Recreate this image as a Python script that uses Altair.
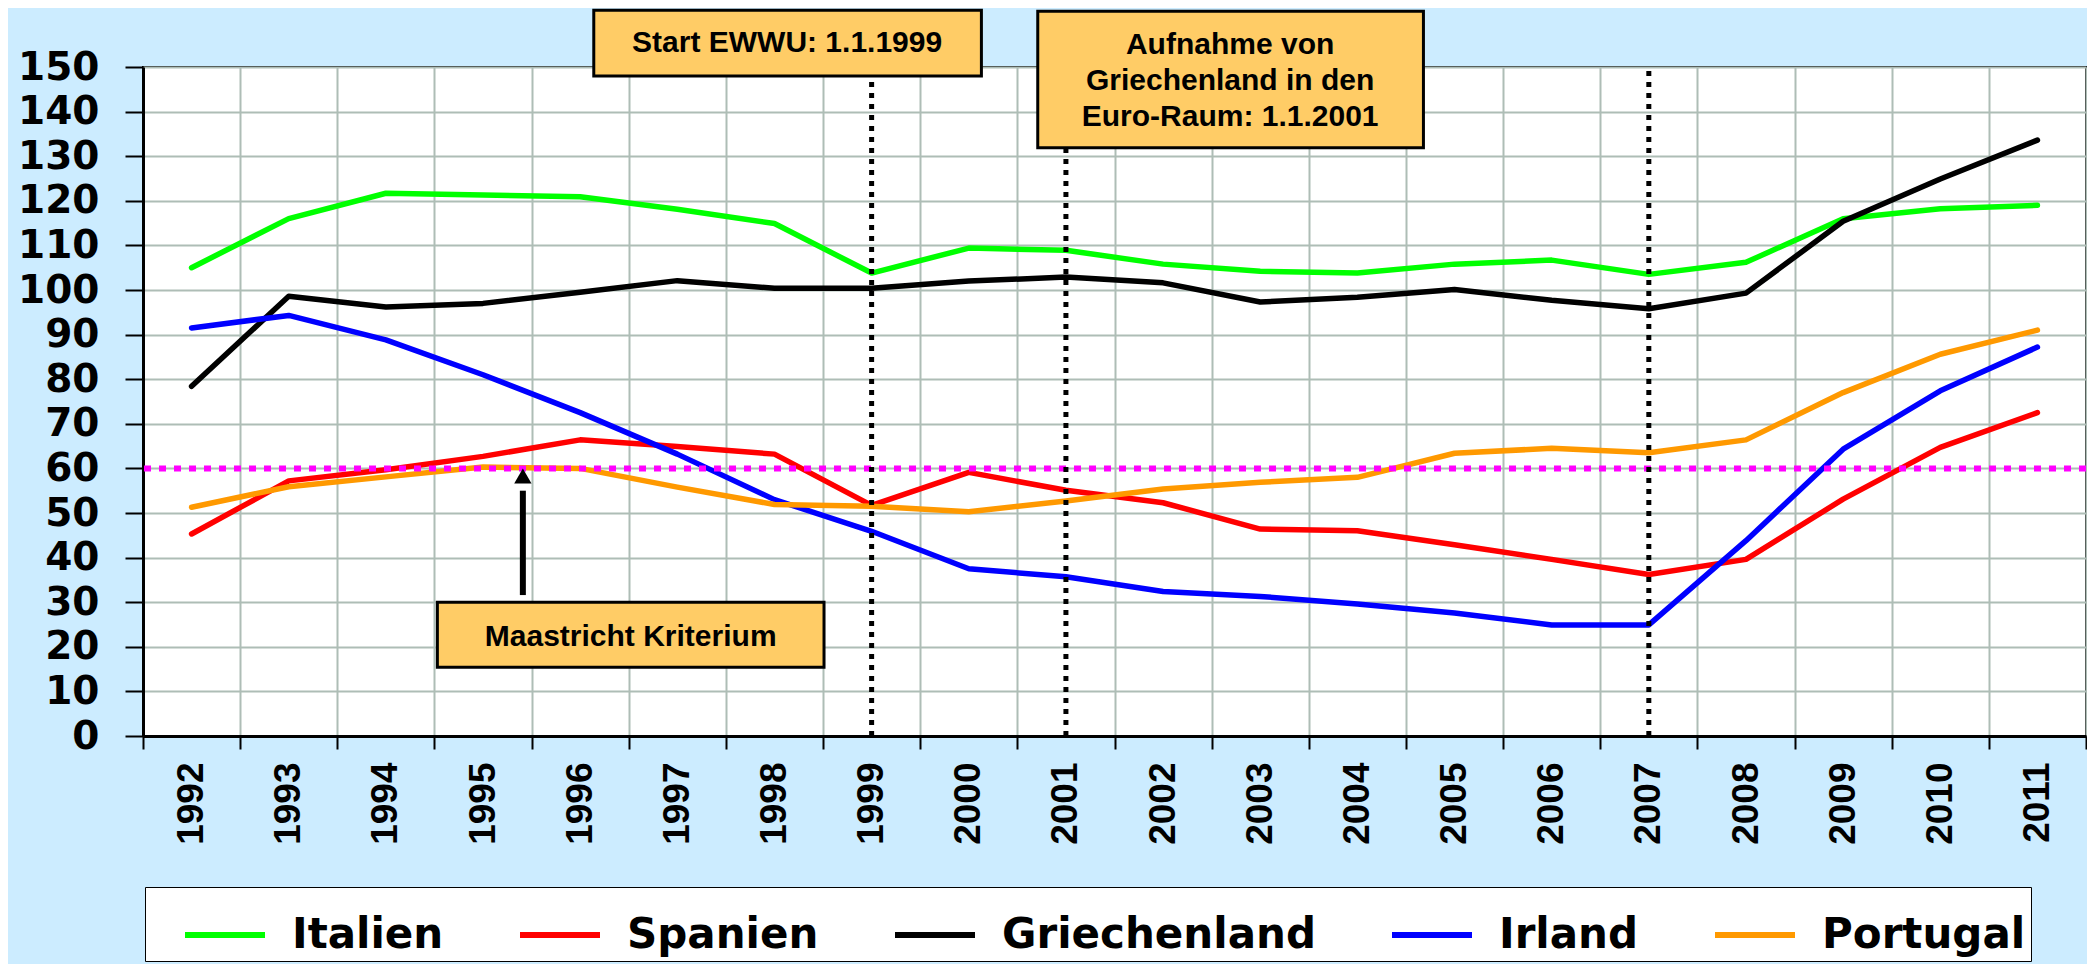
import altair as alt
import pandas as pd

# ---------------- data ----------------
years = list(range(1992, 2012))
countries = ["Italien", "Spanien", "Griechenland", "Irland", "Portugal"]
colors = ["#00FF00", "#FF0000", "#000000", "#0000FF", "#FF9900"]

italien = [105.0, 116.0, 121.7, 121.3, 120.9, 118.1, 114.9, 103.8, 109.4, 108.9,
           105.8, 104.2, 103.8, 105.8, 106.7, 103.5, 106.2, 116.0, 118.2, 119.0]
spanien = [45.3, 57.2, 59.7, 62.7, 66.4, 64.9, 63.2, 51.7, 59.1, 55.1,
           52.3, 46.4, 46.0, 42.9, 39.6, 36.2, 39.6, 53.1, 64.7, 72.5]
griechenland = [78.4, 98.6, 96.2, 97.0, 99.5, 102.1, 100.4, 100.4, 102.0, 102.9,
                101.6, 97.3, 98.4, 100.1, 97.7, 95.8, 99.3, 115.4, 124.9, 133.6]
irland = [91.5, 94.3, 88.8, 81.0, 72.5, 63.2, 53.0, 45.9, 37.5, 35.7,
          32.4, 31.3, 29.6, 27.6, 24.9, 24.9, 43.8, 64.3, 77.4, 87.2]
portugal = [51.3, 55.9, 58.1, 60.3, 60.0, 55.8, 51.9, 51.5, 50.3, 52.7,
            55.4, 56.9, 58.0, 63.4, 64.5, 63.5, 66.4, 77.0, 85.6, 91.0]

criterion = [60]
event_years = [1999, 2001, 2007]

# annotation boxes (in year / value units)
box_x1 = [1996.14, 2000.71, 1994.53]
box_x2 = [2000.13, 2004.68, 1998.51]
box_y1 = [162.7, 162.5, 30.0]
box_y2 = [148.0, 131.9, 15.4]
box_text = [["Start EWWU: 1.1.1999"],
            ["Aufnahme von", "Griechenland in den", "Euro-Raum: 1.1.2001"],
            ["Maastricht Kriterium"]]
text_x = [1998.13, 2002.69, 1996.52]
text_y = [155.3, 155.0, 22.2]

arrow_x = [1995.41]
arrow_from = [31.6]
arrow_to = [55.0]
arrow_tip = [58.3]

# ---------------- tables ----------------
series = {"Italien": italien, "Spanien": spanien, "Griechenland": griechenland,
          "Irland": irland, "Portugal": portugal}
rows = []
for name in countries:
    for yr, v in zip(years, series[name]):
        rows.append({"Jahr": yr, "Wert": v, "Land": name})
df = pd.DataFrame(rows)

df_crit = pd.DataFrame({"Wert": criterion})
df_events = pd.DataFrame({"Jahr": event_years, "lo": [0] * 3, "hi": [150] * 3})
df_boxes = pd.DataFrame({"x1": box_x1, "x2": box_x2, "y1": box_y1, "y2": box_y2})
df_texts = pd.DataFrame({"x": text_x, "y": text_y, "t": box_text})
df_arrow = pd.DataFrame({"x": arrow_x, "a": arrow_from, "b": arrow_to, "tip": arrow_tip})

# ---------------- scales / axes ----------------
GRID = "#AEBDB6"
boundaries = [1991.5 + i for i in range(21)]
x_scale = alt.Scale(domain=[1991.5, 2011.5], nice=False, zero=False)
y_scale = alt.Scale(domain=[0, 150], nice=False, zero=True)

x_axis = alt.Axis(
    title=None, values=boundaries,
    labelExpr="datum.value < 2011 ? format(datum.value + 0.5, 'd') : ''",
    labelAngle=270, labelOffset=48.6, labelPadding=13,
    labelFont="Liberation Sans", labelFontWeight="bold", labelFontSize=37,
    labelColor="black", labelFlush=False, labelOverlap=False, labelBound=False,
    grid=True, gridColor=GRID, gridWidth=2,
    tickSize=13, tickColor="black", tickWidth=2,
    domainColor="black", domainWidth=3,
)
y_axis = alt.Axis(
    title=None, values=list(range(0, 151, 10)),
    labelFont="DejaVu Sans", labelFontWeight="bold", labelFontSize=39,
    labelColor="black", labelPadding=26,
    grid=True, gridColor=GRID, gridWidth=2,
    tickSize=18, tickColor="black", tickWidth=2,
    domainColor="black", domainWidth=3,
)

X = lambda f: alt.X(f, scale=x_scale, axis=x_axis)
Y = lambda f: alt.Y(f, scale=y_scale, axis=y_axis)

lines = alt.Chart(df).mark_line(strokeWidth=5.5, strokeCap="round", strokeJoin="round").encode(
    x=X("Jahr:Q"),
    y=Y("Wert:Q"),
    color=alt.Color(
        "Land:N",
        scale=alt.Scale(domain=countries, range=colors),
        legend=alt.Legend(
            title=" ", titleOrient="left", titleFontSize=1, titlePadding=32,
            orient="none", legendX=2, legendY=820,
            direction="horizontal", columns=5,
            symbolType="stroke", symbolSize=6400, symbolStrokeWidth=6,
            labelFont="DejaVu Sans", labelFontWeight="bold", labelFontSize=42,
            labelColor="black", labelOffset=24, columnPadding=64, labelLimit=800,
            padding=5, fillColor="white", strokeColor="black",
        ),
    ),
    detail="Land:N",
)

crit = alt.Chart(df_crit).mark_rule(color="#FF00FF", strokeWidth=6, strokeDash=[7, 8]).encode(
    y=Y("Wert:Q"),
)

events = alt.Chart(df_events).mark_rule(color="black", strokeWidth=5, strokeDash=[5, 6]).encode(
    x=X("Jahr:Q"),
    y=Y("lo:Q"),
    y2="hi:Q",
)

boxes = alt.Chart(df_boxes).mark_rect(fill="#FFCC66", stroke="black", strokeWidth=3).encode(
    x=X("x1:Q"), x2="x2:Q", y=Y("y1:Q"), y2="y2:Q",
)

texts = alt.Chart(df_texts).mark_text(
    font="Liberation Sans", fontWeight="bold", fontSize=30, color="black",
    align="center", baseline="middle", lineHeight=36,
).encode(x=X("x:Q"), y=Y("y:Q"), text="t")

arrow_shaft = alt.Chart(df_arrow).mark_rule(color="black", strokeWidth=6).encode(
    x=X("x:Q"), y=Y("a:Q"), y2="b:Q",
)
arrow_head = alt.Chart(df_arrow).mark_point(
    shape="triangle-up", size=300, filled=True, color="black", opacity=1,
).encode(x=X("x:Q"), y=Y("tip:Q"))

chart = alt.layer(lines, crit, events, boxes, texts, arrow_shaft, arrow_head).properties(
    width=1943, height=669,
    autosize=alt.AutoSizeParams(type="none"),
    padding={"left": 135, "top": 59, "right": 1, "bottom": 228},
    background="#CCECFF",
).configure_view(stroke="black", strokeWidth=2, fill="white")

chart.save("out.html", embed_options={"renderer": "svg", "actions": False})
